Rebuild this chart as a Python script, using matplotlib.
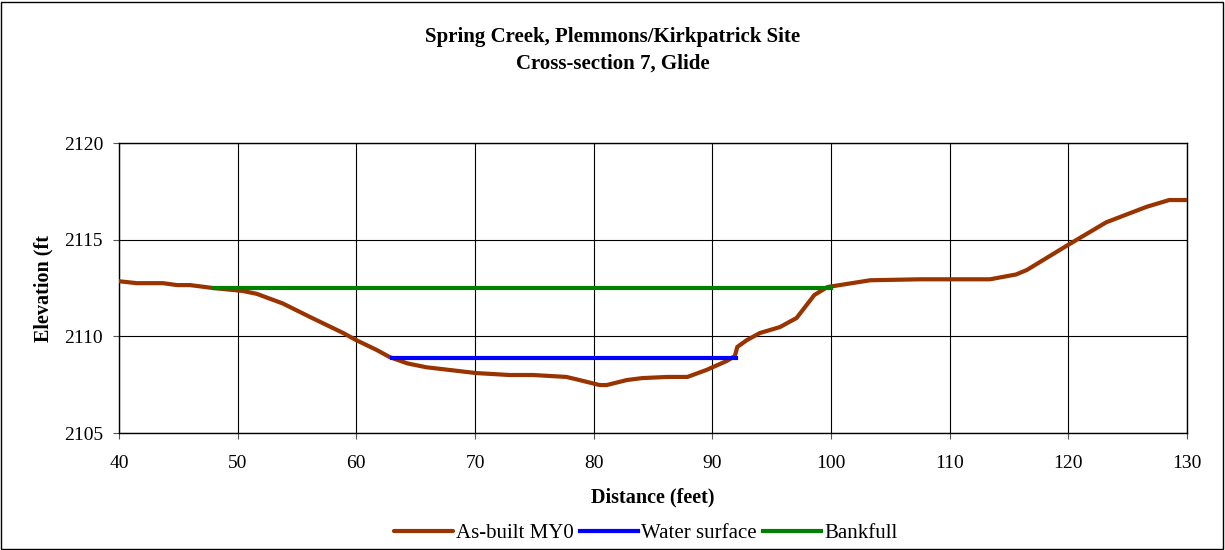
import matplotlib
matplotlib.use("Agg")
import matplotlib.pyplot as plt
from matplotlib.patches import Rectangle

# As-built MY0 survey (distance ft, elevation ft)
station = [40.0, 41.5, 43.7, 44.9, 46.0, 47.9, 50.4, 51.6, 53.8, 56.1, 58.9, 60.0,
           61.7, 62.8, 64.3, 65.9, 70.1, 72.9, 74.9, 77.7, 78.8, 80.5, 81.1, 82.8,
           84.1, 86.2, 87.9, 89.5, 91.2, 91.9, 92.1, 92.9, 94.0, 95.7, 97.1, 98.6,
           99.7, 103.3, 107.5, 113.4, 115.6, 116.5, 119.9, 123.2, 126.6, 128.5, 130.0]
elevation = [2112.85, 2112.75, 2112.75, 2112.65, 2112.65, 2112.5, 2112.35, 2112.2,
             2111.7, 2111.0, 2110.17, 2109.8, 2109.3, 2108.93, 2108.6, 2108.4, 2108.1,
             2108.0, 2108.0, 2107.9, 2107.74, 2107.48, 2107.48, 2107.74, 2107.84,
             2107.9, 2107.9, 2108.26, 2108.72, 2108.98, 2109.45, 2109.8, 2110.17,
             2110.48, 2110.95, 2112.14, 2112.55, 2112.9, 2112.95, 2112.95, 2113.2,
             2113.43, 2114.7, 2115.9, 2116.7, 2117.05, 2117.05]

water_x = [63.0, 92.0]
water_y = [2108.9, 2108.9]
bankfull_x = [48.0, 100.0]
bankfull_y = [2112.5, 2112.5]

plt.rcParams['font.family'] = ['Liberation Serif', 'DejaVu Serif']

fig = plt.figure(figsize=(12.25, 5.5), dpi=100)
ax = fig.add_axes([119 / 1225, 1 - 433 / 550, (1187 - 119) / 1225, (433 - 143) / 550])

# outer chart border
fig.patches.append(Rectangle((0.001, 0.002), 0.997, 0.995, transform=fig.transFigure,
                             fill=False, edgecolor='black', linewidth=1.0))

ax.plot(station, elevation, color='#993300', linewidth=3.0, label='As-built MY0',
        solid_capstyle='round', solid_joinstyle='round', zorder=3)
ax.plot(water_x, water_y, color='#0000FF', linewidth=3.0, label='Water surface', zorder=4)
ax.plot(bankfull_x, bankfull_y, color='#008000', linewidth=3.0, label='Bankfull', zorder=4)

ax.set_xlim(40, 130)
ax.set_ylim(2105, 2120)
ax.set_xticks(range(40, 131, 10))
ax.set_yticks(range(2105, 2121, 5))
ax.grid(True, color='black', linewidth=0.8)
ax.set_axisbelow(True)
for side in ax.spines.values():
    side.set_linewidth(1.0)
ax.tick_params(labelsize=14, direction='out', length=4.5, color='#555555')
ax.tick_params(axis='x', pad=11)
ax.tick_params(axis='y', pad=7)

ax.set_xlabel('Distance (feet)', fontsize=14.5, fontweight='bold', va='center')
ax.xaxis.set_label_coords(0.5, -(497 - 433) / 290)
ax.set_ylabel('Elevation (ft', fontsize=14.5, fontweight='bold', va='center')
ax.yaxis.set_label_coords((43 - 119) / 1068, 0.5)

fig.text(0.5, 1 - 37 / 550, 'Spring Creek, Plemmons/Kirkpatrick Site', ha='center',
         va='center', fontsize=15, fontweight='bold')
fig.text(0.5, 1 - 64 / 550, 'Cross-section 7, Glide', ha='center', va='center',
         fontsize=15, fontweight='bold')

fig.legend(loc='center', bbox_to_anchor=(646 / 1225, 1 - 533 / 550), ncol=3, frameon=False,
           fontsize=15, handlelength=2.8, handletextpad=0.15, columnspacing=0.3)

fig.savefig('out.png', dpi=100)
